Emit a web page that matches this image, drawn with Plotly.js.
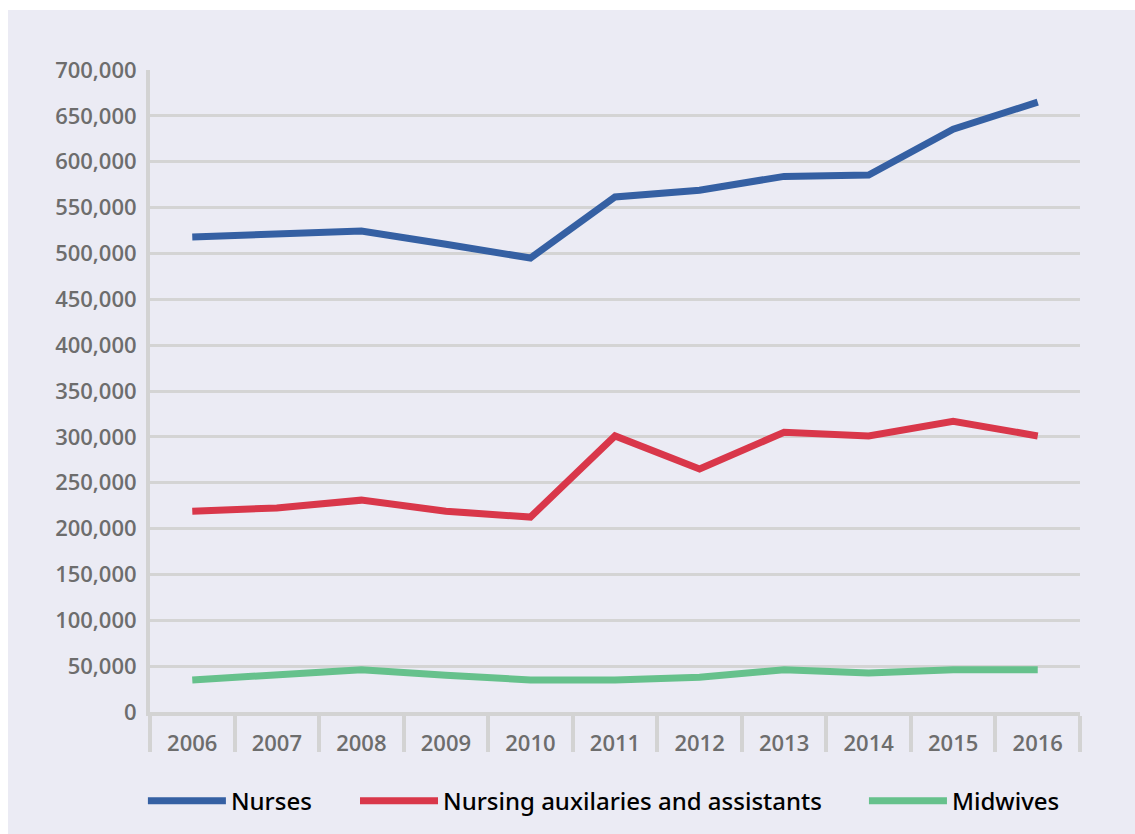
<!DOCTYPE html>
<html>
<head>
<meta charset="utf-8">
<script src="https://cdn.plot.ly/plotly-3.0.1.min.js"></script>
<style>
html,body{margin:0;padding:0;background:#ffffff;}
#chart{position:absolute;left:8px;top:10px;width:1127px;height:824px;}
</style>
</head>
<body>
<div id="chart"></div>
<script>
const years = ['2006','2007','2008','2009','2010','2011','2012','2013','2014','2015','2016'];
const nurses = [518000, 522000, 524500, 510000, 495000, 561500, 569000, 584000, 585500, 635500, 665000];
const auxiliaries = [219000, 222500, 231000, 219000, 212500, 301000, 265000, 305000, 301000, 317000, 301000];
const midwives = [35000, 40000, 46000, 40000, 35000, 35000, 38000, 46000, 42500, 46000, 46000];
const seriesNames = ['Nurses', 'Nursing auxilaries and assistants', 'Midwives'];
const seriesColors = ['#3560a3', '#d9374a', '#66c18c'];
const yTicks = [0,50000,100000,150000,200000,250000,300000,350000,400000,450000,500000,550000,600000,650000,700000];
const yTickText = ['0','50,000','100,000','150,000','200,000','250,000','300,000','350,000','400,000','450,000','500,000','550,000','600,000','650,000','700,000'];

const legendIds = ['legend', 'legend2', 'legend3'];
const allSeries = [nurses, auxiliaries, midwives];
const traces = allSeries.map((vals, i) => ({
  type: 'scatter',
  mode: 'lines',
  x: years,
  y: vals,
  name: seriesNames[i],
  legend: legendIds[i],
  line: {color: seriesColors[i], width: 7},
  hoverinfo: 'x+y+name'
}));

const tickFont = {size: 22, color: '#6d6d6d', family: '"Open Sans", sans-serif', weight: 600};

function legendAt(xFrac) {
  return {
    orientation: 'h',
    x: xFrac,
    xanchor: 'left',
    xref: 'container',
    y: 0.04,
    yanchor: 'middle',
    yref: 'container',
    font: {size: 24, color: '#000000', family: '"Noto Sans", sans-serif', weight: 500},
    bgcolor: 'rgba(0,0,0,0)',
    itemwidth: 78
  };
}

const layout = {
  width: 1127,
  height: 824,
  paper_bgcolor: '#ebebf4',
  plot_bgcolor: '#ebebf4',
  margin: {l: 142, r: 55, t: 60, b: 122},
  font: {family: '"Open Sans", sans-serif', color: '#6d6d6d', size: 20},
  xaxis: {
    type: 'category',
    range: [-0.5, 10.5],
    showgrid: false,
    showline: true,
    linecolor: '#d3d3d3',
    linewidth: 4,
    ticks: 'outside',
    tickson: 'boundaries',
    ticklen: 36,
    tickwidth: 4,
    tickcolor: '#d3d3d3',
    ticklabelstandoff: 9,
    tickfont: tickFont,
    zeroline: false,
    fixedrange: true
  },
  yaxis: {
    range: [0, 700000],
    tickvals: yTicks,
    ticktext: yTickText,
    showgrid: true,
    gridcolor: '#d4d4d4',
    gridwidth: 3,
    showline: true,
    linecolor: '#d3d3d3',
    linewidth: 4,
    ticks: '',
    ticklabelstandoff: 5,
    tickfont: tickFont,
    zeroline: false,
    fixedrange: true
  },
  showlegend: true,
  legend: legendAt(0.1197),
  legend2: legendAt(0.3079),
  legend3: legendAt(0.7595)
};

Plotly.newPlot('chart', traces, layout, {displayModeBar: false, staticPlot: true});
</script>
</body>
</html>
